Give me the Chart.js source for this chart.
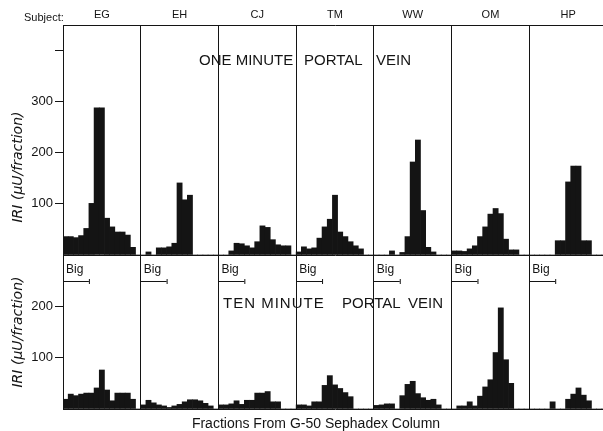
<!DOCTYPE html>
<html>
<head>
<meta charset="utf-8">
<script src="https://cdn.jsdelivr.net/npm/chart.js@4.4.1/dist/chart.umd.min.js"></script>
<style>
  html, body { margin: 0; padding: 0; background: #fff; overflow: hidden; }
  #wrap { position: relative; width: 612px; height: 431px; }
</style>
</head>
<body>
<div id="wrap"><canvas id="sephadexChart" width="612" height="431"></canvas></div>
<script>
// subjects across the top, 15 column fractions each
const subjects = ["EG", "EH", "CJ", "TM", "WW", "OM", "HP"];
const fractionsPerSubject = 15;

// one minute portal vein, IRI (uU/fraction) per fraction
const egOne = [36, 36, 34, 38, 52, 101, 288, 288, 72, 55, 45, 45, 39, 15, 0];
const ehOne = [0, 6, 0, 14, 14, 16, 23, 141, 108, 117, 0, 0, 0, 0, 0];
const cjOne = [0, 0, 8, 23, 22, 18, 14, 26, 57, 54, 30, 20, 18, 18, 0];
const tmOne = [6, 16, 12, 14, 33, 55, 70, 117, 45, 36, 26, 18, 12, 0, 0];
const wwOne = [0, 0, 0, 8, 0, 5, 36, 182, 225, 87, 15, 6, 0, 0, 0];
const omOne = [8, 8, 7, 12, 18, 36, 55, 80, 91, 81, 31, 10, 10, 0, 0];
const hpOne = [0, 0, 0, 0, 0, 28, 28, 143, 174, 174, 28, 28, 0, 0, 0];

// ten minute portal vein
const egTen = [19, 29, 26, 29, 31, 31, 41, 76, 37, 16, 31, 31, 31, 19, 0];
const ehTen = [8, 17, 12, 8, 6, 3, 6, 9, 14, 18, 18, 16, 11, 6, 0];
const cjTen = [8, 8, 10, 16, 9, 17, 17, 31, 31, 34, 14, 14, 0, 0, 0];
const tmTen = [8, 8, 6, 14, 14, 46, 65, 47, 40, 32, 24, 0, 0, 0, 0];
const wwTen = [7, 8, 10, 10, 0, 26, 48, 54, 30, 22, 17, 19, 8, 0, 0];
const omTen = [0, 6, 6, 14, 6, 25, 43, 57, 110, 197, 96, 50, 0, 0, 0];
const hpTen = [0, 0, 0, 0, 14, 0, 0, 19, 29, 41, 27, 16, 0, 0, 0];

const yLabelsTop = [100, 200, 300];
const yMarksTop = [100, 200, 300, 400];
const yLabelsBottom = [100, 200];

const oneMinute = [egOne, ehOne, cjOne, tmOne, wwOne, omOne, hpOne];
const tenMinute = [egTen, ehTen, cjTen, tmTen, wwTen, omTen, hpTen];

const ink = "#141414";
const fractionLabels = [];
subjects.forEach(s => {
    for (let i = 1; i <= fractionsPerSubject; i++) fractionLabels.push(s + " " + i);
});

// extra lettering: row titles, y titles, "Big" brackets, x caption
const lettering = {
    id: "lettering",
    afterDraw(chart) {
        const ctx = chart.ctx;
        const x = chart.scales.x;
        const midY = chart.scales.yTop.bottom;
        const slot = x.getPixelForValue(1) - x.getPixelForValue(0);
        ctx.save();
        ctx.fillStyle = ink;
        ctx.strokeStyle = ink;
        ctx.textBaseline = "alphabetic";

        ctx.font = "11px 'Liberation Sans'";
        ctx.fillText("Subject:", 24, 21);

        ctx.font = "15px 'Liberation Sans'";
        ctx.fillText("ONE MINUTE", 199, 65);
        ctx.fillText("PORTAL", 304, 65);
        ctx.fillText("VEIN", 376, 65);
        ctx.letterSpacing = "1px";
        ctx.fillText("TEN MINUTE", 223, 308);
        ctx.letterSpacing = "0px";
        ctx.fillText("PORTAL", 342, 308);
        ctx.fillText("VEIN", 408, 308);

        // y titles, rotated
        ctx.font = "italic 14px 'DejaVu Sans'";
        ctx.textAlign = "center";
        [[167, "IRI (\u03bcU/fraction)"], [332, "IRI (\u03bcU/fraction)"]].forEach(([cy, t]) => {
            ctx.save();
            ctx.translate(22, cy);
            ctx.rotate(-Math.PI / 2);
            ctx.fillText(t, 0, 0);
            ctx.restore();
        });
        ctx.textAlign = "left";

        ctx.lineWidth = 1;
        subjects.forEach((s, p) => {
            const left = x.getPixelForValue(p * fractionsPerSubject) - slot / 2;
            const right = left + 5 * slot;
            ctx.font = "12px 'Liberation Sans'";
            ctx.fillText("Big", left + 3, midY + 18);
            ctx.beginPath();
            ctx.moveTo(left, midY + 26.5);
            ctx.lineTo(right, midY + 26.5);
            ctx.moveTo(right + 0.5, midY + 24);
            ctx.lineTo(right + 0.5, midY + 29);
            ctx.stroke();
        });

        ctx.font = "14px 'Liberation Sans'";
        ctx.textAlign = "center";
        ctx.fillText("Fractions From G-50 Sephadex Column", 316, 428);
        ctx.restore();
    }
};

Chart.defaults.font.family = "Liberation Sans";

new Chart(document.getElementById("sephadexChart").getContext("2d"), {
    type: "bar",
    data: {
        labels: fractionLabels,
        datasets: [{
            label: "One minute",
            data: oneMinute.flat(),
            xAxisID: "x",
            yAxisID: "yTop",
            backgroundColor: ink,
            borderWidth: 0,
            barPercentage: 1,
            categoryPercentage: 1,
            grouped: false
        }, {
            label: "Ten minute",
            data: tenMinute.flat(),
            xAxisID: "x",
            yAxisID: "yBot",
            backgroundColor: ink,
            borderWidth: 0,
            barPercentage: 1,
            categoryPercentage: 1,
            grouped: false
        }]
    },
    options: {
        responsive: false,
        animation: false,
        layout: { padding: { left: 0, right: 5, top: 0, bottom: 0 } },
        plugins: { legend: { display: false }, tooltip: { enabled: false } },
        scales: {
            x: {
                type: "category",
                offset: true,
                ticks: { display: false },
                grid: {
                    color: c => c.index % fractionsPerSubject === 0 ? ink : "transparent",
                    drawTicks: false
                },
                border: { color: ink },
                afterFit: s => { s.height = 22; }
            },
            xTop: {
                type: "category",
                position: "top",
                labels: subjects,
                offset: true,
                grid: { display: false, drawTicks: false },
                border: { color: ink },
                ticks: { color: ink, font: { size: 11 }, padding: 3, maxRotation: 0 },
                afterFit: s => { s.height = 25; }
            },
            yBot: {
                position: "left",
                stack: "rows",
                stackWeight: 154,
                min: 0,
                max: 300,
                ticks: {
                    stepSize: 100,
                    color: ink,
                    font: { size: 13 },
                    padding: 2,
                    callback: v => yLabelsBottom.includes(v) ? String(v) : ""
                },
                grid: {
                    color: "transparent",
                    tickColor: c => c.tick && yLabelsBottom.includes(c.tick.value) ? ink : "transparent",
                    tickLength: 8
                },
                border: { color: ink },
                afterFit: s => { s.width = 63; }
            },
            yTop: {
                position: "left",
                stack: "rows",
                stackWeight: 230,
                min: 0,
                max: 450,
                ticks: {
                    stepSize: 100,
                    color: ink,
                    font: { size: 13 },
                    padding: 2,
                    callback: v => yLabelsTop.includes(v) ? String(v) : ""
                },
                grid: {
                    color: c => c.tick && c.tick.value === 0 ? ink : "transparent",
                    tickColor: c => c.tick && yMarksTop.includes(c.tick.value) ? ink : "transparent",
                    tickLength: 8
                },
                border: { color: ink },
                afterFit: s => { s.width = 63; }
            }
        }
    },
    plugins: [lettering]
});
</script>
</body>
</html>
